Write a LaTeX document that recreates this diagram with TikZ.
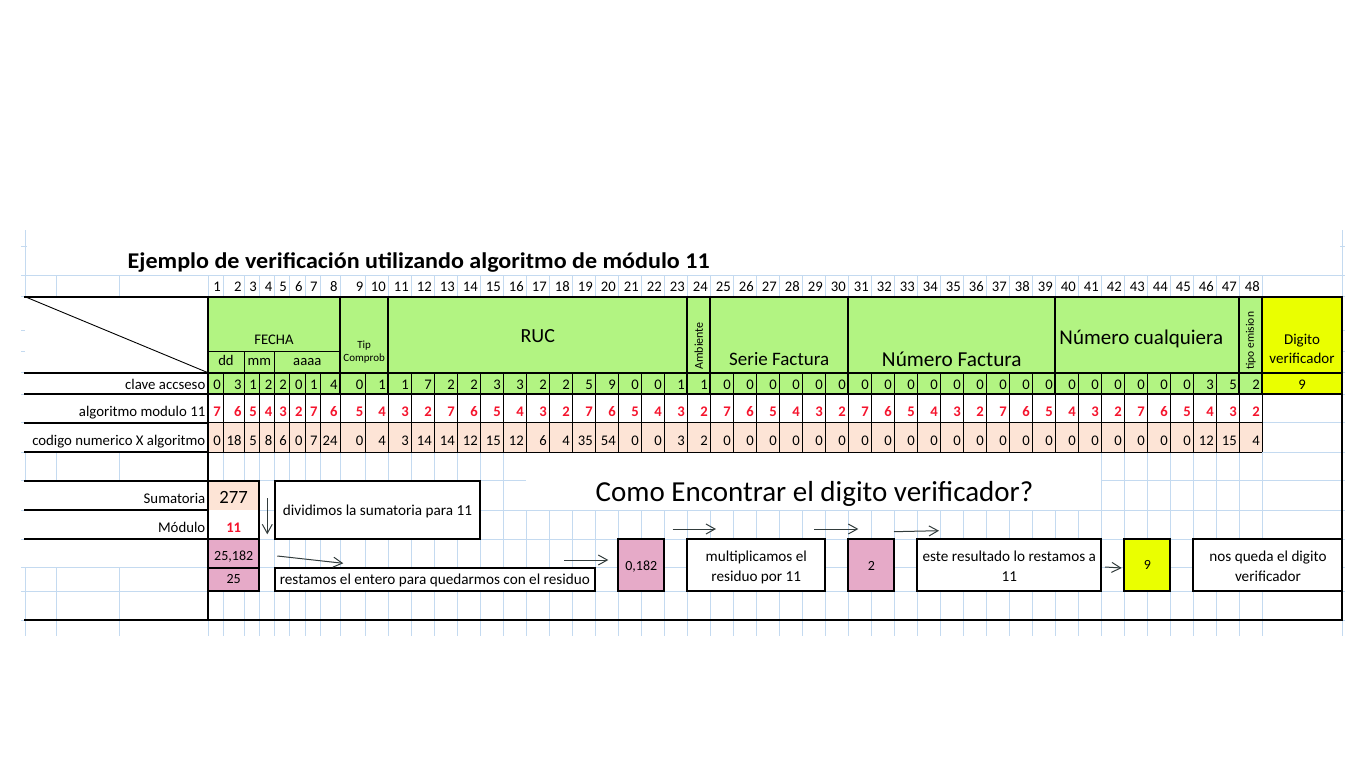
\documentclass[tikz,border=0pt]{standalone}
\usepackage{fontspec}
\setmainfont{Carlito}
\usetikzlibrary{arrows.meta}

\definecolor{gridblue}{RGB}{196,218,240}
\definecolor{headgreen}{RGB}{178,244,130}
\definecolor{verifyellow}{RGB}{234,255,0}
\definecolor{prodpink}{RGB}{253,228,214}
\definecolor{restmauve}{RGB}{230,170,200}
\definecolor{digitred}{RGB}{245,20,45}
\definecolor{arrowgray}{RGB}{50,60,60}

\newcommand{\setfs}[1]{\fontsize{#1}{#1}\selectfont}

\tikzset{
  gridline/.style={draw=gridblue, line width=0.8pt},
  thinline/.style={line width=0.9pt},
  thickline/.style={line width=2.2pt, line cap=rect},
  cellnum/.style={anchor=base east, inner xsep=2.5pt, inner ysep=0pt, outer sep=0pt, font=\setfs{14.67}},
  modnum/.style={cellnum, text=digitred, font={\setfs{14.67}\bfseries}},
  rowlabel/.style={anchor=base east, inner sep=0pt, font=\setfs{14.8}},
  headtext/.style={anchor=base, inner sep=0pt, font=\setfs{14.67}},
  boxtext/.style={anchor=base, inner sep=0pt, font=\setfs{15.2}},
  flowarrow/.style={draw=arrowgray, line width=1pt, -{Straight Barb[length=9pt,width=10pt]}},
}

\begin{document}
\begin{tikzpicture}[x=1pt,y=-1pt]
  \useasboundingbox (0,0) rectangle (1366,768);

  % column edges
  \foreach \x [count=\i from 0] in {208,223.3,244,259.3,274.7,289.3,305,320,340,365.7}
    \coordinate (e\i) at (\x,0);
  \foreach \i in {10,...,48}
    \coordinate (e\i) at ({388.3+23*(\i-10)},0);

  % sheet grid
  \draw[gridline] (25,230) -- (25,636);
  \draw[gridline] (1342,230) -- (1342,636);
  \foreach \x in {56,119}
    \draw[gridline] (\x,275) -- (\x,636);
  \foreach \i in {0,...,48}
    \draw[gridline] (e\i |- 0,275) -- (e\i |- 0,636);
  \foreach \y in {275,296.7,372.7,394,422.7,452.3,480.7,510,539,567.7,591,620}
    \draw[gridline] (21,\y) -- (1345,\y);
  \foreach \y in {246.7,330,351.7}
    \draw[gridline] (21,\y) -- (27,\y) (1340,\y) -- (1345,\y);

  % merged cells without grid
  \fill[white] (25,296.7) rectangle (208,452.3);
  \fill[white] (25,480.7) rectangle (208,567.2);
  \fill[white] (e16 |- 0,452.3) rectangle (e41 |- 0,509.5);

  % cell colours
  \fill[headgreen] (e0 |- 0,296.7) rectangle (e48 |- 0,394);
  \fill[verifyellow] (e48 |- 0,296.7) rectangle (1342,394);
  \fill[white] (e0 |- 0,394) rectangle (e48 |- 0,422.7);
  \fill[prodpink] (e0 |- 0,422.7) rectangle (e48 |- 0,452.3);
  \fill[prodpink] (e0 |- 0,480.7) rectangle (e3 |- 0,510);
  \fill[white] (e0 |- 0,510) rectangle (e3 |- 0,539);
  \fill[restmauve] (e0 |- 0,539) rectangle (e3 |- 0,591);

  % thin cell borders
  \foreach \i in {1,...,47}
    \draw[thinline] (e\i |- 0,372.7) -- (e\i |- 0,452.3);
  \draw[thinline] (e48 |- 0,394) -- (e48 |- 0,452.3);
  \draw[thinline] (e0 |- 0,422.7) -- (e48 |- 0,422.7);
  \draw[thinline] (e0 |- 0,452.3) -- (e48 |- 0,452.3);
  \draw[thinline] (e0 |- 0,351.7) -- (e8 |- 0,351.7);
  \draw[thinline] (e2 |- 0,351.7) -- (e2 |- 0,372.7);
  \draw[thinline] (e4 |- 0,351.7) -- (e4 |- 0,372.7);
  \draw[thinline] (25,296.7) -- (e0 |- 0,372.7);

  % thick borders
  \draw[thickline] (25,296.7) -- (1342,296.7);
  \draw[thickline] (25,372.7) -- (1342,372.7);
  \draw[thickline] (25,394) -- (1342,394);
  \draw[thickline] (25,422.7) -- (e0 |- 0,422.7);
  \draw[thickline] (25,452.3) -- (e0 |- 0,452.3);
  \draw[thickline] (25,480.7) -- (e3 |- 0,480.7);
  \draw[thickline] (25,510) -- (e0 |- 0,510);
  \draw[thickline] (25,539) -- (e3 |- 0,539);
  \draw[thickline] (e0 |- 0,567.7) -- (e3 |- 0,567.7);
  \draw[thickline] (e0 |- 0,591) -- (e3 |- 0,591);
  \draw[thickline] (25,620) -- (1342,620);
  \draw[thickline] (e0 |- 0,296.7) -- (e0 |- 0,620);
  \draw[thickline] (e3 |- 0,480.7) -- (e3 |- 0,591);
  \draw[thickline] (1342,296.7) -- (1342,620);
  \foreach \i in {8,10,23,24,30,39,47,48}
    \draw[thickline] (e\i |- 0,296.7) -- (e\i |- 0,394);

  % step boxes
  \draw[thickline, fill=white] (e4 |- 0,480.7) rectangle (e14 |- 0,539);
  \draw[thickline, fill=white] (e4 |- 0,567.7) rectangle (e19 |- 0,591);
  \draw[thickline, fill=restmauve] (e20 |- 0,539) rectangle (e22 |- 0,591);
  \draw[thickline, fill=white] (e23 |- 0,539) rectangle (e29 |- 0,591);
  \draw[thickline, fill=restmauve] (e30 |- 0,539) rectangle (e32 |- 0,591);
  \draw[thickline, fill=white] (e33 |- 0,539) rectangle (e41 |- 0,591);
  \draw[thickline, fill=verifyellow] (e42 |- 0,539) rectangle (e44 |- 0,591);
  \draw[thickline, fill=white] (e45 |- 0,539) rectangle (1342,591);

  % title
  \node[anchor=base west, inner sep=0pt, xscale=1.07, font={\setfs{22.5}\bfseries}] (titulo) at (127.5,268.3)
    {Ejemplo de verificación utilizando algoritmo de módulo 11};

  % position numbers
  \foreach \j in {1,...,48}
    \node[cellnum] (n\j) at (e\j |- 0,291.7) {\j};

  % header
  \node[headtext] (fecha) at (274,344.3) {FECHA};
  \node[headtext] (dia) at (226,365) {dd};
  \node[headtext] (mes) at (259.3,365) {mm};
  \node[headtext] (anio) at (307.3,365) {aaaa};
  \node[headtext, font=\setfs{11}] (tip) at (364.2,348.3) {Tip};
  \node[headtext, font=\setfs{11}] (comprob) at (364.2,361.7) {Comprob};
  \node[headtext, font=\setfs{20}] (ruc) at (537.8,342.3) {RUC};
  \node[rotate=90, anchor=west, inner sep=0pt, font=\setfs{12}] (ambiente) at (698.7,370) {Ambiente};
  \node[headtext, font=\setfs{19}] (serie) at (779.2,365.7) {Serie Factura};
  \node[headtext, font=\setfs{21.3}] (numfact) at (951.8,366) {Número Factura};
  \node[headtext, font=\setfs{21}] (numcual) at (1141.3,344) {Número cualquiera};
  \node[rotate=90, anchor=west, inner sep=0pt, font=\setfs{11.5}] (tipoemi) at (1250.8,370) {tipo emision};
  \node[headtext, font=\setfs{15}] (digito) at (1302,344) {Digito};
  \node[headtext, font=\setfs{15}] (verif) at (1302,363.3) {verificador};

  % row labels
  \node[rowlabel] (lclave) at (205.5,389) {clave accseso};
  \node[rowlabel] (lalgo) at (205.5,416) {algoritmo modulo 11};
  \node[rowlabel] (lcodigo) at (205.5,445) {codigo numerico X algoritmo};
  \node[rowlabel] (lsuma) at (205.5,503.3) {Sumatoria};
  \node[rowlabel] (lmod) at (205.5,532.7) {Módulo};

  % clave de acceso
  \foreach \v [count=\j] in {0,3,1,2,2,0,1,4,0,1,1,7,2,2,3,3,2,2,5,9,0,0,1,1,
      0,0,0,0,0,0,0,0,0,0,0,0,0,0,0,0,0,0,0,0,0,3,5,2}
    \node[cellnum] (k\j) at (e\j |- 0,389) {\v};
  \node[headtext] (k49) at (1302,389) {9};

  % factores modulo 11
  \foreach \v [count=\j] in {7,6,5,4,3,2,7,6,5,4,3,2,7,6,5,4,3,2,7,6,5,4,3,2,
      7,6,5,4,3,2,7,6,5,4,3,2,7,6,5,4,3,2,7,6,5,4,3,2}
    \node[modnum] (a\j) at (e\j |- 0,416) {\v};

  % productos
  \foreach \v [count=\j] in {0,18,5,8,6,0,7,24,0,4,3,14,14,12,15,12,6,4,35,54,0,0,3,2,
      0,0,0,0,0,0,0,0,0,0,0,0,0,0,0,0,0,0,0,0,0,12,15,4}
    \node[cellnum] (p\j) at (e\j |- 0,445) {\v};

  % sumatoria
  \node[headtext, font=\setfs{18.7}] (suma) at (233.7,503.3) {277};
  \node[headtext, font={\setfs{14.67}\bfseries}, text=digitred] (modulo) at (233.7,532.7) {11};
  \node[headtext, font=\setfs{14}] (cociente) at (233.7,560.7) {25,182};
  \node[headtext, font=\setfs{14}] (entero) at (233.7,583.3) {25};

  % steps
  \node[anchor=base, inner sep=0pt, font=\setfs{29}] (pregunta) at (814.5,501.7)
    {Como Encontrar el digito verificador?};
  \node[boxtext] (tdiv) at (377.5,515) {dividimos la sumatoria para 11};
  \node[boxtext] (tresta) at (434.8,584) {restamos el entero para quedarmos con el residuo};
  \node[boxtext, font=\setfs{14}] (residuo) at (641.3,570) {0,182};
  \node[boxtext] (tmult1) at (756.3,561.7) {multiplicamos el};
  \node[boxtext] (tmult2) at (756.3,581.7) {residuo por 11};
  \node[boxtext, font=\setfs{14}] (producto) at (871.3,570) {2};
  \node[boxtext] (tres1) at (1009.3,561.7) {este resultado lo restamos a};
  \node[boxtext] (tres2) at (1009.3,581.7) {11};
  \node[boxtext, font=\setfs{14}] (digfinal) at (1147.3,569.3) {9};
  \node[boxtext] (tfin1) at (1268,561.7) {nos queda el digito};
  \node[boxtext] (tfin2) at (1268,581.7) {verificador};

  % arrows
  \coordinate (abajo1) at (267.3,498.3);
  \coordinate (abajo2) at (267.3,534.3);
  \coordinate (flecha1a) at (277.3,556);
  \coordinate (flecha1b) at (343.3,563.3);
  \coordinate (flecha2a) at (564.3,560);
  \coordinate (flecha2b) at (608.3,560);
  \coordinate (flecha3a) at (672.7,529);
  \coordinate (flecha3b) at (716,529);
  \coordinate (flecha4a) at (814.3,529);
  \coordinate (flecha4b) at (858.3,529);
  \coordinate (flecha5a) at (894,531.7);
  \coordinate (flecha5b) at (939,530.7);
  \coordinate (flecha6a) at (1105,567);
  \coordinate (flecha6b) at (1121.7,568);
  \draw[flowarrow] (abajo1) -- (abajo2);
  \draw[flowarrow] (flecha1a) -- (flecha1b);
  \draw[flowarrow] (flecha2a) -- (flecha2b);
  \draw[flowarrow] (flecha3a) -- (flecha3b);
  \draw[flowarrow] (flecha4a) -- (flecha4b);
  \draw[flowarrow] (flecha5a) -- (flecha5b);
  \draw[flowarrow] (flecha6a) -- (flecha6b);
\end{tikzpicture}
\end{document}
